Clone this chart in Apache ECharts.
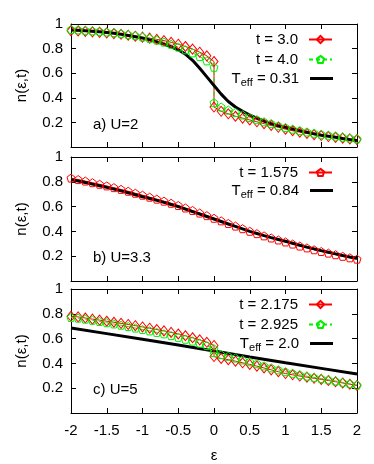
<!DOCTYPE html>
<html>
<head>
<meta charset="utf-8">
<script src="https://cdn.jsdelivr.net/npm/echarts@6/dist/echarts.min.js"></script>
<style>
    html, body { margin: 0; padding: 0; background: #fff; }
    #chart { width: 374px; height: 464px; }
</style>
</head>
<body>
<div id="chart"></div>
<script>
// energies (x)
const epsLeft = [-2, -1.9, -1.8, -1.7, -1.6, -1.5, -1.4, -1.3, -1.2, -1.1, -1, -0.9, -0.8, -0.7, -0.6, -0.5, -0.4, -0.3, -0.2, -0.1, 0];
const epsRight = [0, 0.1, 0.2, 0.3, 0.4, 0.5, 0.6, 0.7, 0.8, 0.9, 1, 1.1, 1.2, 1.3, 1.4, 1.5, 1.6, 1.7, 1.8, 1.9, 2];
const epsCoarse = [-2, -1.5, -1, -0.5, 0, 0.5, 1, 1.5, 2];
const xTicks = [-2, -1.5, -1, -0.5, 0, 0.5, 1, 1.5, 2];
const yTicks = [0.2, 0.4, 0.6, 0.8, 1];

// a) U=2
const redALeft = [0.945, 0.943, 0.94, 0.936, 0.932, 0.927, 0.922, 0.916, 0.909, 0.901, 0.893, 0.885, 0.875, 0.865, 0.851, 0.836, 0.817, 0.796, 0.771, 0.741, 0.695];
const redARight = [0.325, 0.29, 0.27, 0.25, 0.235, 0.22, 0.205, 0.19, 0.175, 0.16, 0.145, 0.132, 0.12, 0.11, 0.1, 0.093, 0.085, 0.078, 0.072, 0.066, 0.06];
const greenALeft = [0.955, 0.952, 0.948, 0.944, 0.94, 0.935, 0.93, 0.922, 0.914, 0.905, 0.895, 0.883, 0.869, 0.853, 0.835, 0.812, 0.79, 0.765, 0.735, 0.7, 0.648];
const greenARight = [0.36, 0.325, 0.3, 0.28, 0.26, 0.24, 0.222, 0.205, 0.19, 0.173, 0.158, 0.145, 0.133, 0.122, 0.112, 0.103, 0.095, 0.088, 0.08, 0.073, 0.067];
const blackA = [0.952, 0.949, 0.946, 0.942, 0.937, 0.931, 0.924, 0.916, 0.907, 0.897, 0.885, 0.871, 0.855, 0.836, 0.815, 0.79, 0.755, 0.705, 0.64, 0.57, 0.5,
    0.43, 0.37, 0.325, 0.29, 0.26, 0.235, 0.21, 0.19, 0.172, 0.16, 0.146, 0.133, 0.12, 0.107, 0.095, 0.087, 0.079, 0.069, 0.06, 0.05];

// b) U=3.3
const redB = [0.83, 0.818, 0.806, 0.793, 0.78, 0.767, 0.753, 0.739, 0.724, 0.708, 0.692, 0.676, 0.66, 0.644, 0.627, 0.609, 0.589, 0.569, 0.548, 0.527, 0.506,
    0.485, 0.464, 0.443, 0.422, 0.401, 0.382, 0.364, 0.347, 0.331, 0.315, 0.298, 0.282, 0.267, 0.252, 0.238, 0.225, 0.212, 0.199, 0.187, 0.176];
const blackB = [0.817, 0.806, 0.794, 0.781, 0.768, 0.755, 0.741, 0.727, 0.712, 0.696, 0.68, 0.665, 0.65, 0.634, 0.617, 0.6, 0.58, 0.56, 0.54, 0.52, 0.5,
    0.48, 0.46, 0.44, 0.42, 0.4, 0.383, 0.366, 0.35, 0.335, 0.32, 0.304, 0.288, 0.273, 0.259, 0.245, 0.232, 0.219, 0.206, 0.194, 0.183];

// c) U=5
const redCLeft = [0.78, 0.775, 0.766, 0.757, 0.749, 0.74, 0.732, 0.723, 0.714, 0.704, 0.694, 0.684, 0.673, 0.662, 0.65, 0.637, 0.623, 0.607, 0.59, 0.57, 0.545];
const redCRight = [0.455, 0.44, 0.43, 0.418, 0.405, 0.392, 0.378, 0.363, 0.348, 0.333, 0.318, 0.308, 0.298, 0.289, 0.28, 0.271, 0.262, 0.252, 0.242, 0.232, 0.222];
const greenCLeft = [0.77, 0.765, 0.757, 0.748, 0.738, 0.728, 0.718, 0.708, 0.697, 0.685, 0.673, 0.662, 0.65, 0.638, 0.624, 0.61, 0.595, 0.58, 0.563, 0.543, 0.518];
const greenCRight = [0.487, 0.47, 0.457, 0.443, 0.428, 0.413, 0.397, 0.38, 0.364, 0.348, 0.333, 0.32, 0.308, 0.297, 0.287, 0.278, 0.268, 0.258, 0.247, 0.236, 0.225];
const blackC = [0.685, 0.64, 0.595, 0.548, 0.5, 0.452, 0.405, 0.36, 0.315];

const FONT = 'Liberation Sans';
const RED = '#ff0000';
const GREEN = '#00ee00';
const PENTAGON = 'path://M5,0 L10,3.6 L8.1,9.5 L1.9,9.5 L0,3.6 Z';

const epsAll = epsLeft.concat(epsRight.slice(1));
const zip = (xs, ys) => xs.map((x, i) => [x, ys[i]]);

const grids = [
    { left: 71, right: 17, top: 24, height: 123 },
    { left: 71, right: 17, top: 157, height: 124 },
    { left: 71, right: 17, top: 289, height: 124 }
];

const xAxes = [];
const yAxes = [];
grids.forEach((g, i) => {
    const last = i === grids.length - 1;
    ['bottom', 'top'].forEach(pos => {
        xAxes.push({
            type: 'value', gridIndex: i, position: pos,
            min: xTicks[0], max: xTicks[xTicks.length - 1], interval: 0.5,
            axisLine: { show: true, onZero: false, lineStyle: { color: '#000', width: 1 } },
            axisTick: { show: true, inside: true, length: 5, lineStyle: { color: '#000' } },
            axisLabel: { show: last && pos === 'bottom', margin: 10, color: '#000', fontSize: 15, fontFamily: FONT },
            splitLine: { show: false },
            name: last && pos === 'bottom' ? 'ε' : '',
            nameLocation: 'middle', nameGap: 35,
            nameTextStyle: { color: '#000', fontSize: 15, fontFamily: FONT }
        });
    });
    ['left', 'right'].forEach(pos => {
        yAxes.push({
            type: 'value', gridIndex: i, position: pos,
            min: 0, max: yTicks[yTicks.length - 1], interval: 0.2,
            axisLine: { show: true, onZero: false, lineStyle: { color: '#000', width: 1 } },
            axisTick: { show: true, inside: true, length: 5, lineStyle: { color: '#000' } },
            axisLabel: {
                show: pos === 'left', margin: 8, color: '#000', fontSize: 15, fontFamily: FONT,
                formatter: v => (yTicks.indexOf(+v.toFixed(1)) >= 0 ? String(+v.toFixed(1)) : '')
            },
            splitLine: { show: false },
            name: pos === 'left' ? 'n(ε,t)' : '',
            nameLocation: 'middle', nameGap: 42,
            nameTextStyle: { color: '#000', fontSize: 15, fontFamily: FONT }
        });
    });
});

function pointSeries(name, panel, data, color, symbol, dashed) {
    return {
        name, type: 'line', xAxisIndex: panel * 2, yAxisIndex: panel * 2,
        data, symbol, symbolSize: symbol === 'diamond' ? [8, 10] : 8, showSymbol: true,
        lineStyle: { color, width: 1, type: dashed ? [4, 3] : 'solid' },
        itemStyle: { color: 'rgba(255,255,255,0)', borderColor: color, borderWidth: 1 },
        emphasis: { disabled: true }
    };
}

function curveSeries(name, panel, data) {
    return {
        name, type: 'line', xAxisIndex: panel * 2, yAxisIndex: panel * 2,
        data, symbol: 'none',
        lineStyle: { color: '#000', width: 3 },
        itemStyle: { color: '#000' },
        emphasis: { disabled: true }
    };
}

const series = [
    pointSeries('t = 3.0', 0, zip(epsLeft.concat(epsRight), redALeft.concat(redARight)), RED, 'diamond', false),
    pointSeries('t = 4.0', 0, zip(epsLeft.concat(epsRight), greenALeft.concat(greenARight)), GREEN, PENTAGON, true),
    curveSeries('Teff = 0.31', 0, zip(epsAll, blackA)),
    pointSeries('t = 1.575', 1, zip(epsAll, redB), RED, PENTAGON, false),
    curveSeries('Teff = 0.84', 1, zip(epsAll, blackB)),
    pointSeries('t = 2.175', 2, zip(epsLeft.concat(epsRight), redCLeft.concat(redCRight)), RED, 'diamond', false),
    pointSeries('t = 2.925', 2, zip(epsLeft.concat(epsRight), greenCLeft.concat(greenCRight)), GREEN, PENTAGON, true),
    curveSeries('Teff = 2.0', 2, zip(epsCoarse, blackC))
];

function legendRow(name, centerY) {
    const isCurve = name.indexOf('Teff') === 0;
    const row = {
        data: [name], right: 41, top: centerY - 9, orient: 'horizontal', align: 'right',
        itemWidth: 23, itemHeight: 9, padding: 0, selectedMode: false,
        formatter: n => n.indexOf('Teff') === 0 ? '{n|T}{s|eff}{n|' + n.slice(4) + '}' : n,
        textStyle: {
            color: '#000', fontSize: 15, fontFamily: FONT, padding: [0, 6, 0, 0],
            rich: {
                n: { fontSize: 15, fontFamily: FONT, color: '#000' },
                s: { fontSize: 11, fontFamily: FONT, color: '#000', padding: [9, 0, 0, 0] }
            }
        }
    };
    if (isCurve) {
        row.icon = 'rect';
        row.itemHeight = 3;
    }
    return row;
}

const legends = [
    legendRow('t = 3.0', 41), legendRow('t = 4.0', 61), legendRow('Teff = 0.31', 80),
    legendRow('t = 1.575', 174), legendRow('Teff = 0.84', 192),
    legendRow('t = 2.175', 306), legendRow('t = 2.925', 326), legendRow('Teff = 2.0', 345)
];

const panelLabel = (text, centerY) => ({
    text, left: 93, top: centerY - 9, padding: 0,
    textStyle: { fontSize: 15, fontWeight: 'normal', fontFamily: FONT, color: '#000' }
});

const chart = echarts.init(document.getElementById('chart'));
chart.setOption({
    backgroundColor: '#fff',
    animation: false,
    textStyle: { fontFamily: FONT },
    title: [panelLabel('a) U=2', 126), panelLabel('b) U=3.3', 259), panelLabel('c) U=5', 391)],
    legend: legends,
    grid: grids,
    xAxis: xAxes,
    yAxis: yAxes,
    series
});
</script>
</body>
</html>
